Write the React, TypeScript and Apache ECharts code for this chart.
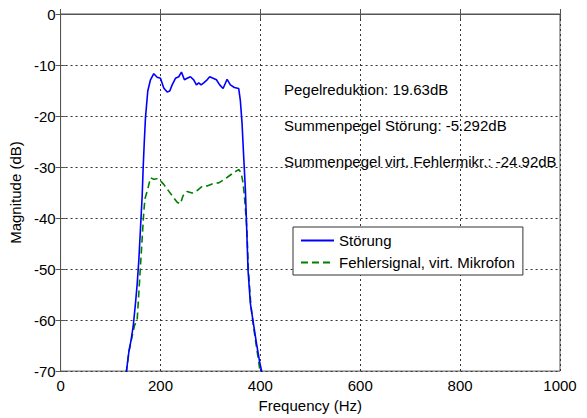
import React, { useEffect, useRef } from "react";
import * as echarts from "echarts";

const stoerFreq = [131.4, 136.6, 141.4, 145.4, 150, 153.4, 156.6, 160, 163.4, 165.4, 167.6, 170, 174.6, 180, 186.6, 193.4, 200, 206.6, 213.4, 218.6, 223.4, 230, 236.6, 242, 248, 253.4, 260, 266.6, 272, 276.6, 281.4, 286.6, 293.4, 298.6, 305.4, 312, 318.6, 325.4, 333.4, 340, 348, 356.6, 360, 363.4, 366.6, 370, 372, 375.4, 380, 385.4, 392, 398.6, 403.4];
const stoerMag = [-70.4, -66.3, -63.8, -61.2, -56.7, -52.9, -48.4, -42.0, -35.6, -30.1, -25.1, -20.3, -15.1, -12.9, -11.7, -12.4, -12.6, -14.5, -15.3, -15.1, -13.9, -12.6, -12.3, -11.4, -12.9, -12.6, -12.3, -12.9, -13.9, -13.5, -13.9, -13.5, -12.9, -12.3, -12.6, -12.9, -13.9, -14.6, -12.8, -13.9, -14.4, -14.6, -17.0, -21.5, -27.9, -34.3, -40.1, -50.3, -56.7, -60.2, -64.4, -68.2, -70.4];

const fehlerFreq = [131.4, 137, 143.4, 148, 153.4, 156.6, 161.4, 166.6, 169, 174.6, 180, 186.6, 193.4, 200, 206.6, 213.4, 223.4, 233.4, 240, 245.4, 253.4, 263.4, 273.4, 283.4, 293.4, 306.6, 316.6, 326.6, 336.6, 346.6, 356.6, 361.4, 365.4, 368, 370, 373, 376, 381, 386, 392, 400];
const fehlerMag = [-70.4, -66.1, -63.1, -61.1, -59.9, -54.8, -47.1, -38.8, -36.2, -34.3, -32.1, -32.4, -32.3, -32.7, -33.4, -34.3, -35.6, -36.9, -37.2, -35.6, -34.8, -35.1, -34.6, -33.8, -33.7, -33.2, -33.1, -32.5, -31.8, -31.1, -30.5, -31.1, -33.1, -35.6, -38.1, -42.1, -50.1, -57.1, -61.1, -65.1, -70.4];

const seriesNames = ["Störung", "Fehlersignal, virt. Mikrofon"];
const annotations = [
  "Pegelreduktion: 19.63dB",
  "Summenpegel Störung: -5.292dB",
  "Summenpegel virt. Fehlermikr.: -24.92dB",
];
const xTitle = "Frequency (Hz)";
const yTitle = "Magnitude (dB)";

const FONT = "Liberation Sans, Arial, Helvetica, sans-serif";

export default function App() {
  const ref = useRef<HTMLDivElement>(null);
  useEffect(() => {
    if (!ref.current) return;
    const chart = echarts.init(ref.current, undefined, { renderer: "svg" });
    const split = { show: true, lineStyle: { color: "#333", type: [2, 3], width: 1 } };
    const axisLine = { show: true, lineStyle: { color: "#555", width: 1 } };
    const tick = { show: true, inside: true, length: 5, lineStyle: { color: "#555" } };
    const label = { color: "#000", fontSize: 15, fontFamily: FONT };
    chart.setOption({
      animation: false,
      backgroundColor: "#fff",
      grid: { left: 60, right: 27, top: 14, bottom: 38, show: true, borderColor: "#555", borderWidth: 1 },
      xAxis: [
        {
          type: "value", min: 0, max: 1000, interval: 200, position: "bottom",
          axisLine, axisTick: tick, splitLine: split,
          axisLabel: { ...label, margin: 7, formatter: (v: number) => String(v) },
          name: xTitle, nameLocation: "middle", nameGap: 24,
          nameTextStyle: { color: "#000", fontSize: 15, fontFamily: FONT },
        },
        {
          type: "value", min: 0, max: 1000, interval: 200, position: "top",
          axisLine, axisTick: tick, splitLine: { show: false }, axisLabel: { show: false },
        },
      ],
      yAxis: [
        {
          type: "value", min: -70, max: 0, interval: 10, position: "left",
          axisLine, axisTick: tick, splitLine: split,
          axisLabel: { ...label, margin: 5 },
          name: yTitle, nameLocation: "middle", nameGap: 33,
          nameTextStyle: { color: "#000", fontSize: 15, fontFamily: FONT },
        },
        {
          type: "value", min: -70, max: 0, interval: 10, position: "right",
          axisLine, axisTick: tick, splitLine: { show: false }, axisLabel: { show: false },
        },
      ],
      legend: {
        orient: "vertical",
        left: 293,
        top: 227,
        backgroundColor: "#fff",
        borderColor: "#333",
        borderWidth: 1,
        borderRadius: 0,
        padding: [6, 8, 5, 7],
        itemWidth: 33,
        itemHeight: 14,
        itemGap: 7,
        itemStyle: { opacity: 0 },
        textStyle: { color: "#000", fontSize: 15, fontFamily: FONT },
        data: seriesNames,
      },
      series: [
        {
          name: seriesNames[0],
          type: "line",
          symbol: "none",
          data: stoerFreq.map((f, i) => [f, stoerMag[i]]),
          lineStyle: { color: "#0000ff", width: 1.6 },
          itemStyle: { color: "#0000ff" },
          clip: true,
          z: 3,
        },
        {
          name: seriesNames[1],
          type: "line",
          symbol: "none",
          data: fehlerFreq.map((f, i) => [f, fehlerMag[i]]),
          lineStyle: { color: "#008000", width: 1.6, type: [7, 4] },
          itemStyle: { color: "#008000" },
          clip: true,
          z: 2,
        },
      ],
      graphic: annotations.map((t, i) => ({
        type: "text",
        x: 284,
        y: 89 + i * 36,
        style: {
          text: t,
          fill: "#000",
          font: `15px ${FONT}`,
          verticalAlign: "middle",
        },
        z: 10,
      })),
    });
    return () => chart.dispose();
  }, []);
  return (
    <div
      ref={ref}
      style={{ position: "fixed", left: 0, top: 0, width: 587, height: 418 }}
    />
  );
}
